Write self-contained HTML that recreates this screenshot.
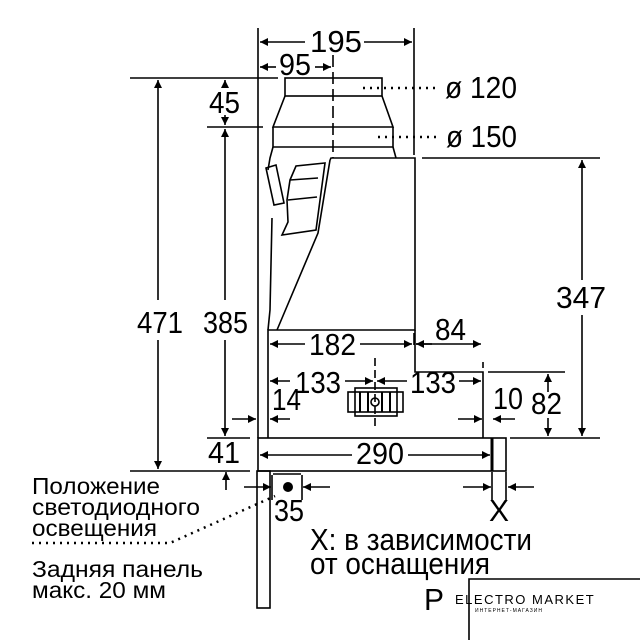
<!DOCTYPE html>
<html><head><style>
html,body{margin:0;padding:0;background:#fff;}
svg{display:block;}
text{font-family:"Liberation Sans","Noto Sans CJK SC",sans-serif;fill:#000;}
</style></head><body>
<svg width="640" height="640" viewBox="0 0 640 640" xmlns="http://www.w3.org/2000/svg">
<defs>
<marker id="a" viewBox="0 0 10 10" refX="10" refY="5" markerWidth="10" markerHeight="8" orient="auto-start-reverse" markerUnits="userSpaceOnUse"><path d="M0,0 L10,5 L0,10 z" fill="#000"/></marker>
</defs>
<g stroke="#000" stroke-width="1.6" fill="none">
<line x1="258" y1="28" x2="258" y2="438"/>
<line x1="414" y1="28" x2="414" y2="155"/>
<line x1="130" y1="78" x2="278" y2="78"/>
<line x1="207" y1="127" x2="263" y2="127"/>
<line x1="422" y1="158" x2="600" y2="158"/>
<line x1="207" y1="438" x2="250" y2="438"/>
<line x1="130" y1="471" x2="250" y2="471"/>
<line x1="488" y1="372" x2="565" y2="372"/>
<line x1="510" y1="438" x2="600" y2="438"/>
<line x1="483" y1="362" x2="483" y2="368"/>
<line x1="414" y1="333" x2="414" y2="345"/>
<line x1="260" y1="42" x2="305" y2="42" marker-start="url(#a)"/>
<line x1="364" y1="42" x2="412" y2="42" marker-end="url(#a)"/>
<line x1="260" y1="67" x2="276" y2="67" marker-start="url(#a)"/>
<line x1="315" y1="67" x2="331" y2="67" marker-end="url(#a)"/>
<line x1="158" y1="80" x2="158" y2="300" marker-start="url(#a)"/>
<line x1="158" y1="340" x2="158" y2="469" marker-end="url(#a)"/>
<line x1="225" y1="80" x2="225" y2="88" marker-start="url(#a)"/>
<line x1="225" y1="115" x2="225" y2="125" marker-end="url(#a)"/>
<line x1="225" y1="129" x2="225" y2="300" marker-start="url(#a)"/>
<line x1="225" y1="340" x2="225" y2="436" marker-end="url(#a)"/>
<line x1="226" y1="472" x2="226" y2="490" marker-start="url(#a)"/>
<line x1="582" y1="160" x2="582" y2="280" marker-start="url(#a)"/>
<line x1="582" y1="315" x2="582" y2="436" marker-end="url(#a)"/>
<line x1="548" y1="374" x2="548" y2="392" marker-start="url(#a)"/>
<line x1="548" y1="418" x2="548" y2="436" marker-end="url(#a)"/>
<line x1="270" y1="344" x2="305" y2="344" marker-start="url(#a)"/>
<line x1="360" y1="344" x2="412" y2="344" marker-end="url(#a)"/>
<line x1="416" y1="344" x2="432" y2="344" marker-start="url(#a)"/>
<line x1="416" y1="344" x2="481" y2="344" marker-end="url(#a)"/>
<line x1="270" y1="381" x2="290" y2="381" marker-start="url(#a)"/>
<line x1="345" y1="381" x2="373" y2="381" marker-end="url(#a)"/>
<line x1="377" y1="381" x2="407" y2="381" marker-start="url(#a)"/>
<line x1="459" y1="381" x2="481" y2="381" marker-end="url(#a)"/>
<line x1="232" y1="419" x2="256" y2="419" marker-end="url(#a)"/>
<line x1="290" y1="419" x2="270" y2="419" marker-end="url(#a)"/>
<line x1="458" y1="419" x2="482" y2="419" marker-end="url(#a)"/>
<line x1="515" y1="419" x2="493" y2="419" marker-end="url(#a)"/>
<line x1="260" y1="455" x2="352" y2="455" marker-start="url(#a)"/>
<line x1="408" y1="455" x2="490" y2="455" marker-end="url(#a)"/>
<line x1="244" y1="487" x2="271" y2="487" marker-end="url(#a)"/>
<line x1="330" y1="487" x2="303" y2="487" marker-end="url(#a)"/>
<line x1="463" y1="487" x2="491" y2="487" marker-end="url(#a)"/>
<line x1="534" y1="487" x2="508" y2="487" marker-end="url(#a)"/>
<line x1="492" y1="472" x2="492" y2="500"/>
<line x1="506" y1="472" x2="506" y2="500"/>
<line x1="272" y1="475" x2="272" y2="500"/>
<line x1="302" y1="475" x2="302" y2="500"/>
<line x1="273" y1="474" x2="301" y2="474"/>
<line x1="333" y1="55" x2="333" y2="158" stroke-dasharray="12,5"/>
<line x1="375" y1="358" x2="375" y2="430" stroke-dasharray="8,4"/>
<rect x="285" y="78" width="97" height="18"/>
<path d="M285,96 L273,127 L393,127 L382,96"/>
<path d="M273,127 L273,147 L393,147 L393,127"/>
<path d="M393,147 L396,158"/>
<path d="M273,147 L270,158 L268,170"/>
<path d="M330,160 L331,158 L415,158 L415,330 L268,330 L268,438"/>
<path d="M415,330 L415,372 L483,372 L483,438"/>
<path d="M330,160 L318,233 L277,330"/>
<path d="M272,218 L270,310 L268,330"/>
<path d="M266,168 L276,165 L284,203 L274,205 z"/>
<path d="M290,180 L296,166 L325,163 L316,230 L282,235 L288,222 L287,200 z"/>
<path d="M290,180 L318,178"/>
<path d="M288,200 L317,197"/>
<rect x="258" y="438" width="248" height="33"/>
<line x1="492" y1="438" x2="492" y2="471" stroke-width="3"/>
<rect x="257" y="471" width="13" height="137"/>
<rect x="348" y="392" width="55" height="20"/>
<rect x="355" y="388" width="42" height="28"/>
<line x1="360" y1="392" x2="360" y2="412" stroke-width="2"/>
<line x1="368" y1="392" x2="368" y2="412" stroke-width="2"/>
<line x1="382" y1="392" x2="382" y2="412" stroke-width="2"/>
<line x1="390" y1="392" x2="390" y2="412" stroke-width="2"/>
<circle cx="375" cy="402" r="4"/>
<line x1="363" y1="88" x2="440" y2="88" stroke-dasharray="2,5" stroke-width="2.5"/>
<line x1="378" y1="137" x2="438" y2="137" stroke-dasharray="2,5" stroke-width="2.5"/>
<path d="M32,543 L170,543 L275,496" stroke-dasharray="2,5" stroke-width="2.5"/>
<path d="M469,640 L469,579 L640,579"/>
</g>
<circle cx="288" cy="487" r="5" fill="#000"/>
<g font-size="31" lengthAdjust="spacingAndGlyphs">
<text x="310" y="52" textLength="52" lengthAdjust="spacingAndGlyphs">195</text>
<text x="279" y="75" textLength="32" lengthAdjust="spacingAndGlyphs">95</text>
<text x="445" y="98" textLength="72" lengthAdjust="spacingAndGlyphs">ø 120</text>
<text x="446" y="147" textLength="71" lengthAdjust="spacingAndGlyphs">ø 150</text>
<text x="209" y="113" textLength="31" lengthAdjust="spacingAndGlyphs">45</text>
<text x="137" y="333" textLength="46" lengthAdjust="spacingAndGlyphs">471</text>
<text x="203" y="333" textLength="45" lengthAdjust="spacingAndGlyphs">385</text>
<text x="556" y="308" textLength="50" lengthAdjust="spacingAndGlyphs">347</text>
<text x="309" y="355" textLength="47" lengthAdjust="spacingAndGlyphs">182</text>
<text x="435" y="340" textLength="31" lengthAdjust="spacingAndGlyphs">84</text>
<text x="295" y="393" textLength="46" lengthAdjust="spacingAndGlyphs">133</text>
<text x="410" y="393" textLength="46" lengthAdjust="spacingAndGlyphs">133</text>
<text x="272" y="410" textLength="29" lengthAdjust="spacingAndGlyphs">14</text>
<text x="493" y="409" textLength="30" lengthAdjust="spacingAndGlyphs">10</text>
<text x="531" y="414" textLength="31" lengthAdjust="spacingAndGlyphs">82</text>
<text x="208" y="463" textLength="32" lengthAdjust="spacingAndGlyphs">41</text>
<text x="356" y="464" textLength="48" lengthAdjust="spacingAndGlyphs">290</text>
<text x="274" y="521" textLength="30" lengthAdjust="spacingAndGlyphs">35</text>
<text x="489" y="521" textLength="20" lengthAdjust="spacingAndGlyphs">X</text>
<text x="310" y="550" textLength="222" lengthAdjust="spacingAndGlyphs">X: в зависимости</text>
<text x="310" y="574" textLength="180" lengthAdjust="spacingAndGlyphs">от оснащения</text>
<text x="424" y="610" textLength="20" lengthAdjust="spacingAndGlyphs">P</text>
</g>
<g font-size="23">
<text x="32" y="494" textLength="128" lengthAdjust="spacingAndGlyphs">Положение</text>
<text x="32" y="515" textLength="168" lengthAdjust="spacingAndGlyphs">светодиодного</text>
<text x="32" y="536" textLength="125" lengthAdjust="spacingAndGlyphs">освещения</text>
<text x="32" y="577" textLength="171" lengthAdjust="spacingAndGlyphs">Задняя панель</text>
<text x="32" y="598" textLength="134" lengthAdjust="spacingAndGlyphs">макс. 20 мм</text>
</g>
<text x="455" y="604" font-size="13" letter-spacing="1.5">ELECTRO MARKET</text>
<text x="475" y="612" font-size="5" letter-spacing="1">ИНТЕРНЕТ-МАГАЗИН</text>
</svg>
</body></html>
